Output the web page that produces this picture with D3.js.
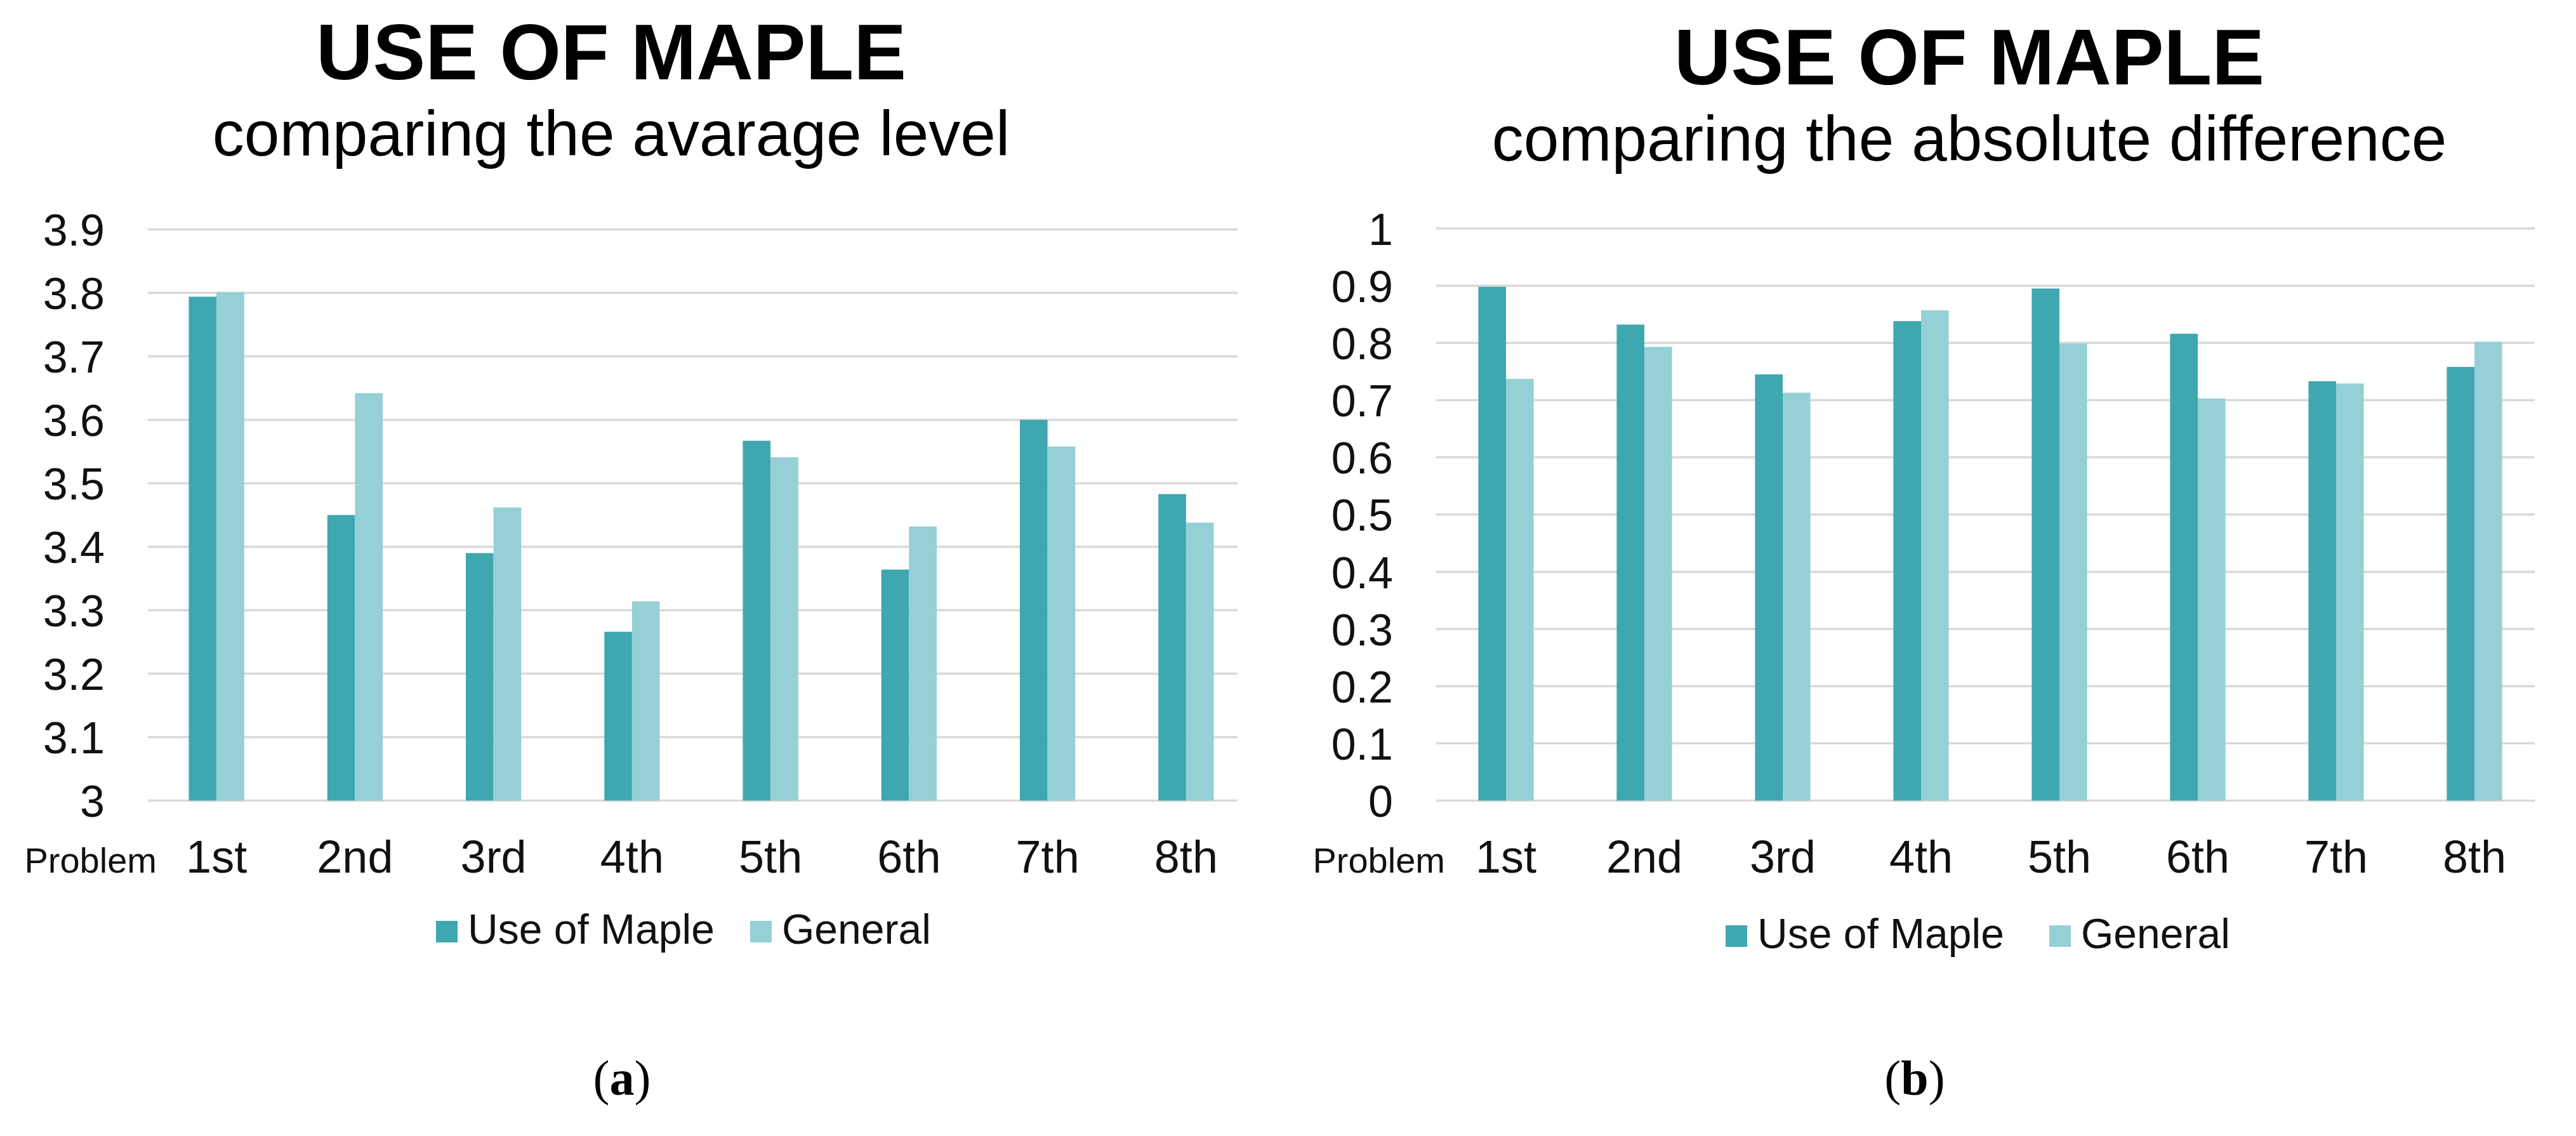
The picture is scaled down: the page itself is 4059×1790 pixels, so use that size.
<!DOCTYPE html>
<html>
<head>
<meta charset="utf-8">
<script src="https://cdn.jsdelivr.net/npm/d3@7"></script>
<style>
  html, body { margin: 0; padding: 0; background: #fff; }
  svg { display: block; }
</style>
</head>
<body>
<script>
// ---------- DATA ----------
const categories = ["1st", "2nd", "3rd", "4th", "5th", "6th", "7th", "8th"];
const seriesNames = ["Use of Maple", "General"];

// (a) comparing the average level
const levelMaple   = [3.794, 3.450, 3.390, 3.266, 3.567, 3.364, 3.600, 3.483];
const levelGeneral = [3.801, 3.642, 3.462, 3.314, 3.541, 3.432, 3.558, 3.438];
const levelTicks   = [3, 3.1, 3.2, 3.3, 3.4, 3.5, 3.6, 3.7, 3.8, 3.9];

// (b) comparing the absolute difference
const diffMaple    = [0.898, 0.832, 0.745, 0.838, 0.895, 0.816, 0.733, 0.758];
const diffGeneral  = [0.737, 0.793, 0.713, 0.857, 0.799, 0.703, 0.729, 0.802];
const diffTicks    = [0, 0.1, 0.2, 0.3, 0.4, 0.5, 0.6, 0.7, 0.8, 0.9, 1];

const titles    = ["USE OF MAPLE", "USE OF MAPLE"];
const subtitles = ["comparing the avarage level", "comparing the absolute difference"];
const captions  = ["a", "b"];
const axisName  = "Problem";

// ---------- STYLE ----------
const W = 4059, H = 1790;
const colors = ["#3ea7af", "#94d0d6"];
const gridColor = "#d9d9d9";
const textColor = "#111";
const sans = "'Liberation Sans', Arial, sans-serif";
const serif = "'Liberation Serif', 'Times New Roman', serif";

const svg = d3.select("body").append("svg")
  .attr("width", W).attr("height", H)
  .attr("viewBox", `0 0 ${W} ${H}`);

svg.append("rect").attr("width", W).attr("height", H).attr("fill", "#fff");

function drawChart(cfg) {
  const g = svg.append("g");
  const data = categories.map((c, i) => ({ cat: c, vals: [cfg.a[i], cfg.b[i]] }));

  const x = d3.scaleBand().domain(categories)
    .range([cfg.x0, cfg.x1]).paddingInner(0.6).paddingOuter(0.3);
  const xs = d3.scaleBand().domain(d3.range(seriesNames.length))
    .range([0, x.bandwidth()]).padding(0);
  const y = d3.scaleLinear().domain(cfg.domain).range([cfg.yBottom, cfg.yTop]);

  // Gridlines
  g.append("g").selectAll("line").data(cfg.ticks).join("line")
    .attr("x1", cfg.gx0).attr("x2", cfg.gx1)
    .attr("y1", d => y(d)).attr("y2", d => y(d))
    .attr("stroke", gridColor).attr("stroke-width", 3.5);

  // Y axis labels via d3 axis
  const yAxis = d3.axisLeft(y).tickValues(cfg.ticks)
    .tickFormat(d3.format("~g")).tickSize(0).tickPadding(0);
  const ya = g.append("g").attr("transform", `translate(${cfg.yLabelX},0)`).call(yAxis);
  ya.select(".domain").remove();
  ya.selectAll("text")
    .attr("font-family", sans).attr("font-size", 70).attr("fill", textColor)
    .attr("dy", "0.36em");

  // Bars
  const grp = g.append("g").selectAll("g").data(data).join("g")
    .attr("transform", d => `translate(${x(d.cat)},0)`);
  grp.selectAll("rect").data(d => d.vals.map((v, k) => ({ v, k }))).join("rect")
    .attr("x", d => xs(d.k))
    .attr("width", xs.bandwidth())
    .attr("y", d => y(d.v))
    .attr("height", d => y(cfg.domain[0]) - y(d.v))
    .attr("fill", d => colors[d.k]);

  // X axis labels via d3 axis
  const xAxis = d3.axisBottom(x).tickSize(0).tickPadding(0);
  const xa = g.append("g").attr("transform", `translate(0,${cfg.xLabelY})`).call(xAxis);
  xa.select(".domain").remove();
  xa.selectAll("text")
    .attr("font-family", sans).attr("font-size", 72).attr("fill", textColor)
    .attr("dy", 0);

  g.append("text").attr("x", cfg.problemX).attr("y", cfg.xLabelY)
    .attr("font-family", sans).attr("font-size", 56).attr("fill", textColor)
    .attr("text-anchor", "end").text(axisName);

  // Titles
  g.append("text").attr("x", cfg.titleX).attr("y", cfg.titleY)
    .attr("text-anchor", "middle").attr("font-family", sans)
    .attr("font-weight", "bold").attr("font-size", 124).attr("fill", "#000")
    .text(cfg.title);
  g.append("text").attr("x", cfg.titleX).attr("y", cfg.subY)
    .attr("text-anchor", "middle").attr("font-family", sans)
    .attr("font-size", 100).attr("fill", "#000")
    .text(cfg.subtitle);

  // Legend
  const lg = g.append("g");
  seriesNames.forEach((name, k) => {
    lg.append("rect").attr("x", cfg.legX[k]).attr("y", cfg.legY - 36)
      .attr("width", 34).attr("height", 34).attr("fill", colors[k]);
    lg.append("text").attr("x", cfg.legX[k] + 50).attr("y", cfg.legY)
      .attr("font-family", sans).attr("font-size", 66).attr("fill", textColor)
      .text(name);
  });

  // Caption
  const cap = g.append("text").attr("x", cfg.capX).attr("y", cfg.capY)
    .attr("text-anchor", "middle").attr("font-family", serif)
    .attr("font-size", 78).attr("fill", "#000");
  cap.append("tspan").text("(");
  cap.append("tspan").attr("font-weight", "bold").text(cfg.caption);
  cap.append("tspan").text(")");
}

drawChart({
  a: levelMaple, b: levelGeneral, ticks: levelTicks, domain: [3, 3.9],
  x0: 232, x1: 1978, gx0: 233, gx1: 1950,
  yBottom: 1261.5, yTop: 361.5, yLabelX: 165,
  xLabelY: 1375, problemX: 247,
  title: titles[0], subtitle: subtitles[0], titleX: 963, titleY: 125, subY: 245,
  legX: [687, 1182], legY: 1487,
  caption: captions[0], capX: 980, capY: 1725
});

drawChart({
  a: diffMaple, b: diffGeneral, ticks: diffTicks, domain: [0, 1],
  x0: 2264, x1: 4008, gx0: 2263, gx1: 3994,
  yBottom: 1261.5, yTop: 360, yLabelX: 2195,
  xLabelY: 1375, problemX: 2277,
  title: titles[1], subtitle: subtitles[1], titleX: 3103, titleY: 133, subY: 253,
  legX: [2719, 3229], legY: 1494,
  caption: captions[1], capX: 3017, capY: 1725
});
</script>
</body>
</html>
